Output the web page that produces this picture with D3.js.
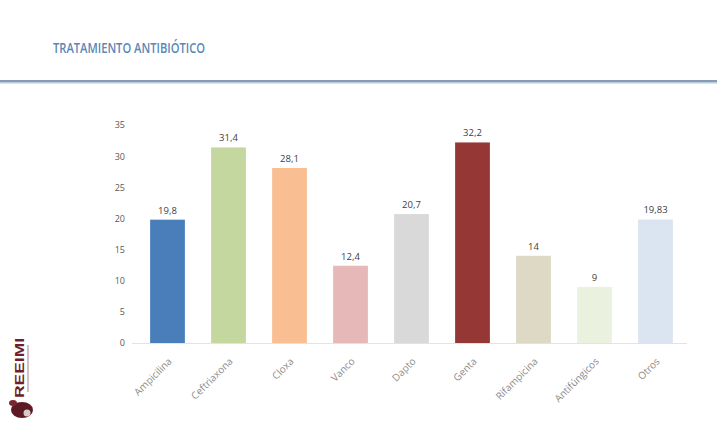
<!DOCTYPE html>
<html>
<head>
<meta charset="utf-8">
<script src="https://cdn.jsdelivr.net/npm/d3@7"></script>
<style>
  html, body { margin: 0; padding: 0; background: #ffffff; }
  svg { display: block; }
</style>
</head>
<body>
<svg id="chart" width="717" height="421"></svg>
<script>
// Antibiotic treatment: percentage of patients per drug
const categories = ["Ampicilina", "Ceftriaxona", "Cloxa", "Vanco", "Dapto", "Genta", "Rifampicina", "Antifúngicos", "Otros"];
const values = [19.8, 31.4, 28.1, 12.4, 20.7, 32.2, 14, 9, 19.83];
const valueLabels = ["19,8", "31,4", "28,1", "12,4", "20,7", "32,2", "14", "9", "19,83"];
const barColors = ["#4a7ebb", "#c3d79e", "#f9be92", "#e6b8b7", "#d9d9d9", "#953735", "#ddd9c4", "#ebf1df", "#dbe5f1"];
const yTicks = [0, 5, 10, 15, 20, 25, 30, 35];

const svg = d3.select("#chart");

// Slide header
svg.append("text")
  .attr("x", 53).attr("y", 53)
  .attr("font-family", "'Open Sans', 'Liberation Sans', sans-serif")
  .attr("font-size", 15)
  .attr("font-weight", 600)
  .attr("fill", "#5a87b6")
  .attr("textLength", 152)
  .attr("lengthAdjust", "spacingAndGlyphs")
  .text("TRATAMIENTO ANTIBIÓTICO");

svg.append("rect").attr("x", 0).attr("y", 80).attr("width", 717).attr("height", 2).attr("fill", "#8a9bb0");
svg.append("rect").attr("x", 0).attr("y", 82).attr("width", 717).attr("height", 1.5).attr("fill", "#b4cde3");

// Scales
const x = d3.scaleBand()
  .domain(categories)
  .range([137, 686])
  .paddingInner(0.43)
  .paddingOuter(0.215);

const y = d3.scaleLinear().domain([0, 35]).range([343, 125]);

// Y axis labels (no axis line)
const yAxis = d3.axisLeft(y).tickValues(yTicks).tickSize(0).tickPadding(0).tickFormat(d3.format("d"));
const gy = svg.append("g").attr("transform", "translate(125,0)").call(yAxis);
gy.select(".domain").remove();
gy.selectAll("text")
  .attr("font-family", "'Open Sans', 'Liberation Sans', sans-serif")
  .attr("font-size", 9)
  .attr("fill", "#595959");

// Bars
svg.append("g").selectAll("rect")
  .data(categories)
  .join("rect")
  .attr("x", d => x(d))
  .attr("y", (d, i) => y(values[i]))
  .attr("width", x.bandwidth())
  .attr("height", (d, i) => y(0) - y(values[i]))
  .attr("fill", (d, i) => barColors[i]);

// Category axis
const xAxis = d3.axisBottom(x).tickSize(0).tickPadding(0);
const gx = svg.append("g").attr("transform", "translate(0,343)").call(xAxis);
gx.select(".domain").attr("stroke", "none");
gx.selectAll("text")
  .attr("font-family", "'Open Sans', 'Liberation Sans', sans-serif")
  .attr("font-size", 10)
  .attr("fill", "#8c8c8c")
  .attr("text-anchor", "end")
  .attr("dy", null)
  .attr("transform", "translate(5,19) rotate(-45)");

svg.append("line")
  .attr("x1", 132).attr("x2", 687)
  .attr("y1", y(0) + 0.5).attr("y2", y(0) + 0.5)
  .attr("stroke", "#e3e3e3").attr("stroke-width", 1.2);

// Value labels above bars
svg.append("g").selectAll("text")
  .data(categories)
  .join("text")
  .attr("x", d => x(d) + x.bandwidth() / 2)
  .attr("y", (d, i) => y(values[i]) - 6)
  .attr("text-anchor", "middle")
  .attr("font-family", "'Open Sans', 'Liberation Sans', sans-serif")
  .attr("font-size", 9.5)
  .attr("fill", "#404040")
  .text((d, i) => valueLabels[i]);

// Society logo in the lower-left corner
const logo = svg.append("g");
logo.append("text")
  .attr("transform", "translate(24,398) rotate(-90)")
  .attr("font-family", "'Liberation Sans', sans-serif")
  .attr("font-weight", "bold")
  .attr("font-size", 12)
  .attr("fill", "#6e1f2b")
  .attr("textLength", 60)
  .attr("lengthAdjust", "spacingAndGlyphs")
  .text("REEIMI");
logo.append("line")
  .attr("x1", 28).attr("x2", 28).attr("y1", 345).attr("y2", 392)
  .attr("stroke", "#c9a9ae").attr("stroke-width", 1.5);
logo.append("ellipse")
  .attr("cx", 22).attr("cy", 410).attr("rx", 11).attr("ry", 8)
  .attr("fill", "#5e1a24");
logo.append("ellipse")
  .attr("cx", 13).attr("cy", 403).attr("rx", 4).attr("ry", 3)
  .attr("fill", "#7a2632");
logo.append("circle")
  .attr("cx", 27).attr("cy", 413).attr("r", 3.5)
  .attr("fill", "#d8c9cc");
</script>
</body>
</html>
